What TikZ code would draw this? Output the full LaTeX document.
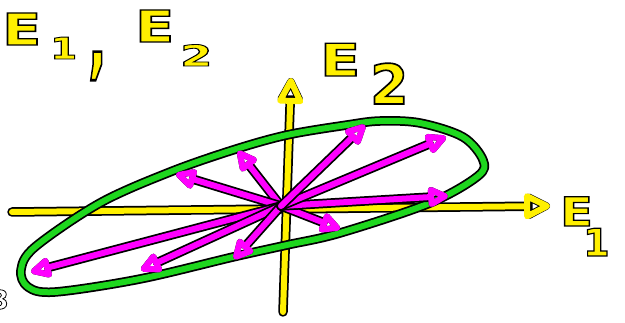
\documentclass[tikz,border=0pt]{standalone}
\usepackage{fontspec}
\usetikzlibrary{arrows.meta}
\newfontfamily\hand[FakeBold=3]{DejaVu Sans}
\definecolor{yel}{RGB}{255,240,0}
\definecolor{mag}{RGB}{255,0,255}
\definecolor{grn}{RGB}{30,215,30}
\newcommand\blackrim{\special{pdf:literal direct 0 0 0 RG}}
\newcommand\wideE{\scalebox{1.3}[1]{E}}
\tikzset{
  rim/.style={draw=black, line width=9.5pt, line cap=round, line join=round,
    postaction={draw=#1, line width=6pt}},
  ylab/.style={text=yel, inner sep=0pt, anchor=base west},
  ax/.style={-{Triangle[open,length=30pt,width=28pt,round]}},
  mv/.style={-{Triangle[open,length=24pt,width=22pt,round]}},
}
\begin{document}
\begin{tikzpicture}[x=1pt,y=-1pt]
\useasboundingbox (0,0) rectangle (625,323);
\coordinate (o) at (281,206);
\coordinate (xl) at (12,212);
\coordinate (xr) at (550,206);
\coordinate (yb) at (283,312);
\coordinate (yt) at (291,78);
\draw[rim=yel, ax] (xl) -- (xr);
\draw[rim=yel, ax] (yb) -- (yt);
\draw[rim=grn] plot[smooth cycle, tension=0.55] coordinates {
  (21,270) (35,247) (100,203) (170,172) (233,150) (287,135) (347,125)
  (380,121) (420,123) (463,137) (483,160) (478,176) (430,203) (340,233)
  (287,245) (233,257) (140,279) (55,292) (28,287)};
\coordinate (a1) at (238,151);
\coordinate (a2) at (176,174);
\coordinate (a3) at (31,272);
\coordinate (a4) at (141,270);
\coordinate (a5) at (234,259);
\coordinate (a6) at (340,229);
\coordinate (a7) at (448,196);
\coordinate (a8) at (446,137);
\coordinate (a9) at (365,125);
\draw[rim=mag, mv] (o) -- (a1);
\draw[rim=mag, mv] (o) -- (a2);
\draw[rim=mag, mv] (o) -- (a3);
\draw[rim=mag, mv] (o) -- (a4);
\draw[rim=mag, mv] (o) -- (a5);
\draw[rim=mag, mv] (o) -- (a6);
\draw[rim=mag, mv] (o) -- (a7);
\draw[rim=mag, mv] (o) -- (a8);
\draw[rim=mag, mv] (o) -- (a9);
% labels
\node[ylab, font=\hand\bfseries\fontsize{44}{44}\selectfont] (lE1) at (2,45) {\blackrim\wideE};
\node[ylab, font=\hand\bfseries\fontsize{30}{30}\selectfont] (l1) at (50,59) {\blackrim\scalebox{1.3}[1]{1}};
\node[ylab, font=\hand\bfseries\fontsize{48}{48}\selectfont] (lc) at (88,68) {\blackrim\scalebox{1}[1.8]{,}};
\node[ylab, font=\hand\bfseries\fontsize{44}{44}\selectfont] (lE2) at (135,42) {\blackrim\wideE};
\node[ylab, font=\hand\bfseries\fontsize{29}{29}\selectfont] (l2) at (180,66) {\blackrim\scalebox{1.6}[1]{2}};
\node[ylab, font=\hand\bfseries\fontsize{45}{45}\selectfont] (mE) at (320,76) {\blackrim\wideE};
\node[ylab, font=\hand\bfseries\fontsize{55}{55}\selectfont] (m2) at (370,104) {\blackrim 2};
\node[ylab, font=\hand\bfseries\fontsize{40}{40}\selectfont] (rE) at (560,226) {\blackrim\scalebox{1.2}[1]{E}};
\node[ylab, font=\hand\bfseries\fontsize{38}{38}\selectfont] (r1) at (583,256) {\blackrim 1};
\node[text=white, inner sep=0pt, anchor=base east, font=\hand\bfseries\fontsize{26}{26}\selectfont] (c3) at (9,309) {\blackrim 3};
\end{tikzpicture}
\end{document}
